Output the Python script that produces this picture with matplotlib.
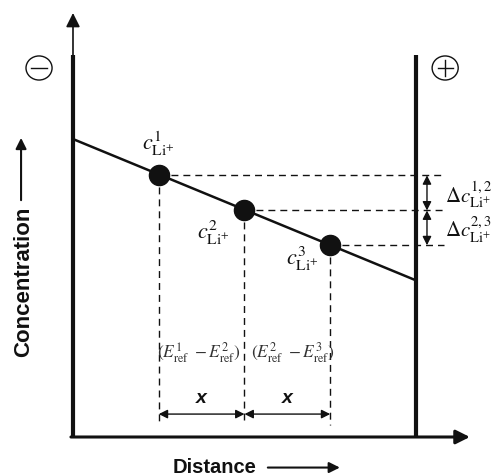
import numpy as np
import matplotlib.pyplot as plt
from matplotlib.patches import Ellipse

plt.rcParams['mathtext.fontset'] = 'stix'

# Datos del esquema (unidades arbitrarias)
electrodo_izq = 0.0
electrodo_der = 10.0
altura_electrodo = 10.0
perfil_dist = [0.0, 10.0]          # perfil lineal de concentración
perfil_conc = [7.8, 4.1]
puntos_dist = [2.5, 5.0, 7.5]      # posiciones de los electrodos de referencia
puntos_conc = [6.85, 5.93, 5.02]
etiquetas_c = [r'$c^{1}_{\mathrm{Li}^{+}}$', r'$c^{2}_{\mathrm{Li}^{+}}$', r'$c^{3}_{\mathrm{Li}^{+}}$']
etiquetas_dc = [r'$\Delta c^{1,2}_{\mathrm{Li}^{+}}$', r'$\Delta c^{2,3}_{\mathrm{Li}^{+}}$']
etiquetas_E = [r'$(E^{1}_{\mathrm{ref}}\ -E^{2}_{\mathrm{ref}})$', r'$(E^{2}_{\mathrm{ref}}\ -E^{3}_{\mathrm{ref}})$']

negro = '#111111'

fig = plt.figure(figsize=(5.02, 4.76), dpi=100)
ax = fig.add_axes([0, 0, 1, 1])
ax.set_xlim(-2.128, 12.507)
ax.set_ylim(-1.021, 11.44)
ax.axis('off')

# Ejes y electrodos
ax.plot([electrodo_izq, electrodo_izq], [0, altura_electrodo], color=negro, lw=3, solid_capstyle='butt')
ax.plot([electrodo_der, electrodo_der], [0, altura_electrodo], color=negro, lw=3, solid_capstyle='butt')
flecha = dict(arrowstyle='-|>,head_length=0.4,head_width=0.2', color=negro,
              shrinkA=0, shrinkB=0, mutation_scale=21)
ax.annotate('', xy=(electrodo_izq, 11.1), xytext=(electrodo_izq, altura_electrodo),
            arrowprops=dict(flecha, lw=1.2))
ax.annotate('', xy=(11.57, 0), xytext=(electrodo_izq - 0.06, 0),
            arrowprops=dict(flecha, lw=2.2))

# Signos de los electrodos
for xc, signo in [(-0.99, '-'), (10.85, '+')]:
    ax.add_patch(Ellipse((xc, 9.66), 0.76, 0.63, fill=False, lw=1, color=negro))
    ax.plot([xc - 0.22, xc + 0.22], [9.66, 9.66], color=negro, lw=1)
    if signo == '+':
        ax.plot([xc, xc], [9.66 - 0.2, 9.66 + 0.2], color=negro, lw=1)

# Perfil de concentración
ax.plot(perfil_dist, perfil_conc, color=negro, lw=1.8)

# Líneas discontinuas
for d, c in zip(puntos_dist, puntos_conc):
    ax.plot([d, 10.82], [c, c], color=negro, lw=1, dashes=(5, 3.6))
    ax.plot([d, d], [c, 0.31], color=negro, lw=1, dashes=(5, 3.6))

# Puntos
ax.plot(puntos_dist, puntos_conc, 'o', color=negro, ms=14.5, zorder=5)

# Etiquetas de concentración
desplaz = [(0, 23), (-22, -16), (-20, -10)]
for d, c, lab, off in zip(puntos_dist, puntos_conc, etiquetas_c, desplaz):
    ax.annotate(lab, xy=(d, c), xytext=off, textcoords='offset points',
                ha='center', va='center', fontsize=16, color=negro)

# Flechas verticales de diferencia de concentración
doble = dict(arrowstyle='<|-|>,head_length=0.4,head_width=0.2', color=negro,
             shrinkA=0, shrinkB=0, mutation_scale=13, lw=1)
for i in range(2):
    ax.annotate('', xy=(10.32, puntos_conc[i]), xytext=(10.32, puntos_conc[i + 1]),
                arrowprops=doble)
    cm = (puntos_conc[i] + puntos_conc[i + 1]) / 2
    ax.text(11.54, cm - 0.05, etiquetas_dc[i], ha='center', va='center',
            fontsize=15, color=negro)

# Distancias x y diferencias de potencial
desplaz_E = [-0.09, 0.16]
for i in range(2):
    ax.annotate('', xy=(puntos_dist[i], 0.6), xytext=(puntos_dist[i + 1], 0.6),
                arrowprops=doble)
    dm = (puntos_dist[i] + puntos_dist[i + 1]) / 2
    ax.text(dm, 1.02, 'x', ha='center', va='center', fontsize=14,
            fontweight='bold', fontstyle='italic', family='Liberation Sans', color=negro)
    ax.text(dm + desplaz_E[i], 2.2, etiquetas_E[i], ha='center', va='center',
            fontsize=12.5, color='#333333')

# Títulos de los ejes
ax.text(-1.443, 4.05, 'Concentration', rotation=90, ha='center', va='center',
        fontsize=16, fontweight='bold', family='Liberation Sans', color=negro)
ax.annotate('', xy=(-1.514, 7.83), xytext=(-1.514, 6.2),
            arrowprops=dict(flecha, lw=1.5, mutation_scale=16))
ax.text(4.12, -0.8, 'Distance', ha='center', va='center',
        fontsize=14.5, fontweight='bold', family='Liberation Sans', color=negro)
ax.annotate('', xy=(7.78, -0.8), xytext=(5.68, -0.8),
            arrowprops=dict(flecha, lw=1.5, mutation_scale=16))

fig.savefig('out.png', dpi=100)
